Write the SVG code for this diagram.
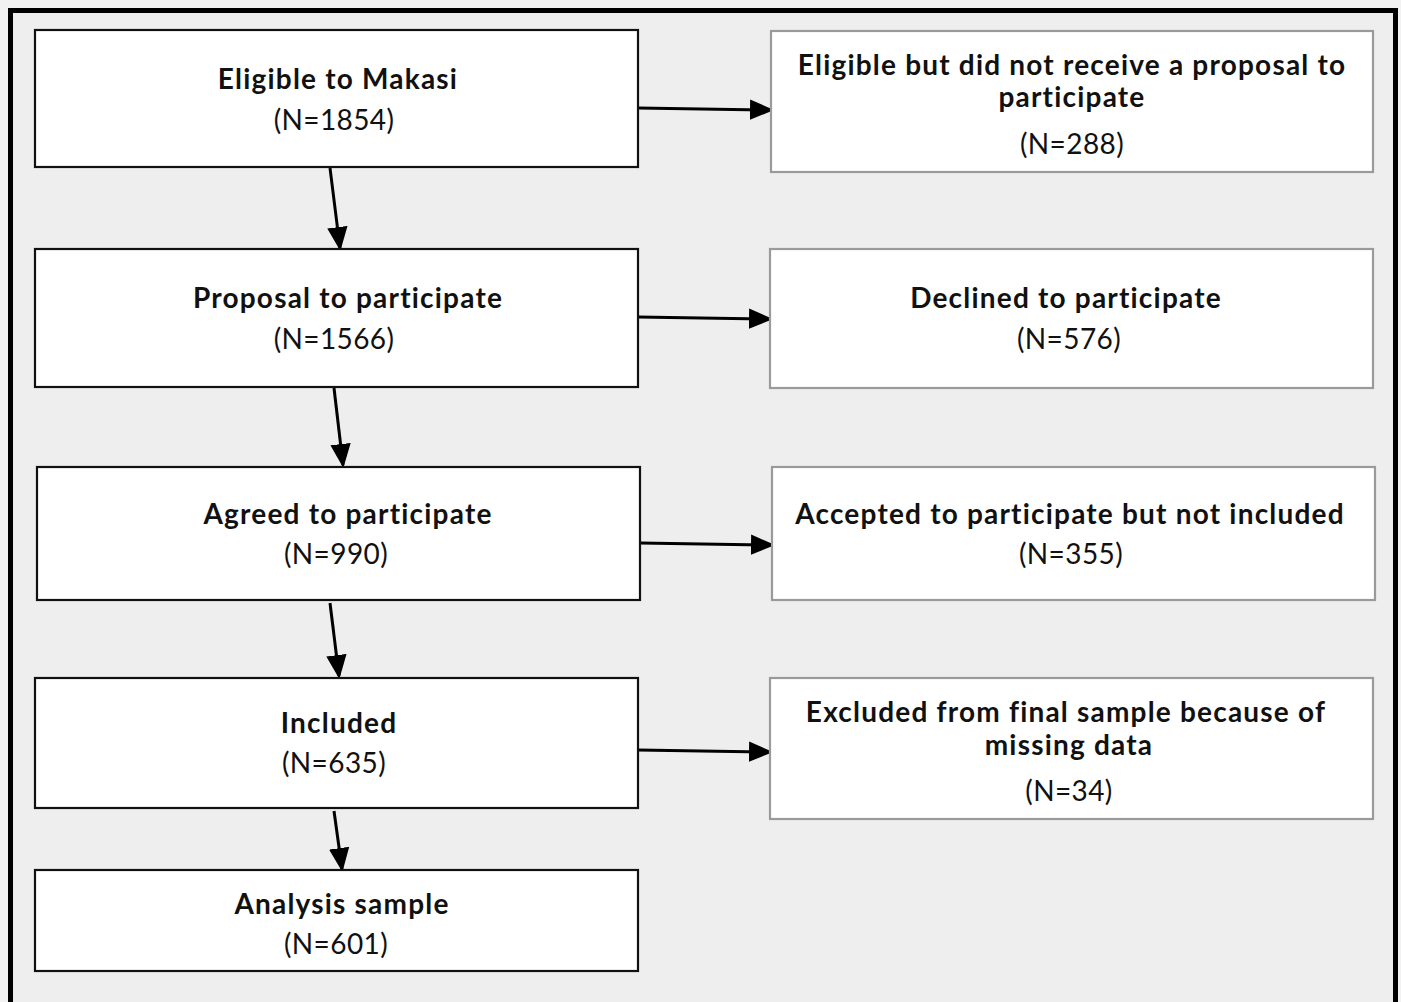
<svg xmlns="http://www.w3.org/2000/svg" width="1401" height="1002" viewBox="0 0 1401 1002">
<defs>
<style>
.bg{fill:#eeeeee}
.frame{fill:none;stroke:#000;stroke-width:5}
.lbox{fill:#fff;stroke:#111;stroke-width:2.2}
.rbox{fill:#fff;stroke:#9a9a9a;stroke-width:2.2}
.t{font-family:Lato,"Open Sans","Liberation Sans",sans-serif;font-weight:bold;font-size:28px;letter-spacing:1.2px;fill:#111;text-anchor:middle}
.n{font-family:Lato,"Open Sans","Liberation Sans",sans-serif;font-size:28px;letter-spacing:0.4px;fill:#111;text-anchor:middle}
.c{stroke:#000;stroke-width:3;fill:none;marker-end:url(#ah)}
</style>
<marker id="ah" markerWidth="8" markerHeight="8" refX="7" refY="4" orient="auto" markerUnits="strokeWidth" viewBox="0 0 8 8">
<path d="M0,0.6 L8,4 L0,7.4 Z" fill="#000"/>
</marker>
</defs>
<rect x="0" y="0" width="1401" height="1002" fill="#f2f2f2"/>
<rect x="10.5" y="10.5" width="1385" height="1010" class="bg"/>
<rect x="10.5" y="10.5" width="1385" height="1010" class="frame"/>
<g id="connectors">
<line class="c" x1="638" y1="108" x2="771" y2="110"/>
<line class="c" x1="638" y1="317" x2="770" y2="319"/>
<line class="c" x1="640" y1="543" x2="772" y2="545"/>
<line class="c" x1="638" y1="750" x2="770" y2="752"/>
<line class="c" x1="330" y1="168" x2="340" y2="248"/>
<line class="c" x1="334" y1="388" x2="343" y2="465"/>
<line class="c" x1="330" y1="603" x2="339" y2="676"/>
<line class="c" x1="334" y1="811" x2="342" y2="869"/>
</g>
<g id="eligible">
<rect class="lbox" x="35" y="30" width="603" height="137"/>
<text class="t" x="338" y="89">Eligible to Makasi</text>
<text class="n" x="334" y="130">(N=1854)</text>
</g>
<g id="proposal">
<rect class="lbox" x="35" y="249" width="603" height="138"/>
<text class="t" x="348" y="308">Proposal to participate</text>
<text class="n" x="334" y="349">(N=1566)</text>
</g>
<g id="agreed">
<rect class="lbox" x="37" y="467" width="603" height="133"/>
<text class="t" x="348" y="524">Agreed to participate</text>
<text class="n" x="336" y="564">(N=990)</text>
</g>
<g id="included">
<rect class="lbox" x="35" y="678" width="603" height="130"/>
<text class="t" x="339" y="733">Included</text>
<text class="n" x="334" y="773">(N=635)</text>
</g>
<g id="analysis">
<rect class="lbox" x="35" y="870" width="603" height="101"/>
<text class="t" x="342" y="914">Analysis sample</text>
<text class="n" x="336" y="954">(N=601)</text>
</g>
<g id="no-proposal">
<rect class="rbox" x="771" y="31" width="602" height="141"/>
<text class="t" x="1072" y="75">Eligible but did not receive a proposal to</text>
<text class="t" x="1072" y="107">participate</text>
<text class="n" x="1072" y="154">(N=288)</text>
</g>
<g id="declined">
<rect class="rbox" x="770" y="249" width="603" height="139"/>
<text class="t" x="1066" y="308">Declined to participate</text>
<text class="n" x="1069" y="349">(N=576)</text>
</g>
<g id="not-included">
<rect class="rbox" x="772" y="467" width="603" height="133"/>
<text class="t" x="1070" y="524">Accepted to participate but not included</text>
<text class="n" x="1071" y="564">(N=355)</text>
</g>
<g id="excluded">
<rect class="rbox" x="770" y="678" width="603" height="141"/>
<text class="t" x="1066" y="722">Excluded from final sample because of</text>
<text class="t" x="1069" y="755">missing data</text>
<text class="n" x="1069" y="801">(N=34)</text>
</g>
</svg>
